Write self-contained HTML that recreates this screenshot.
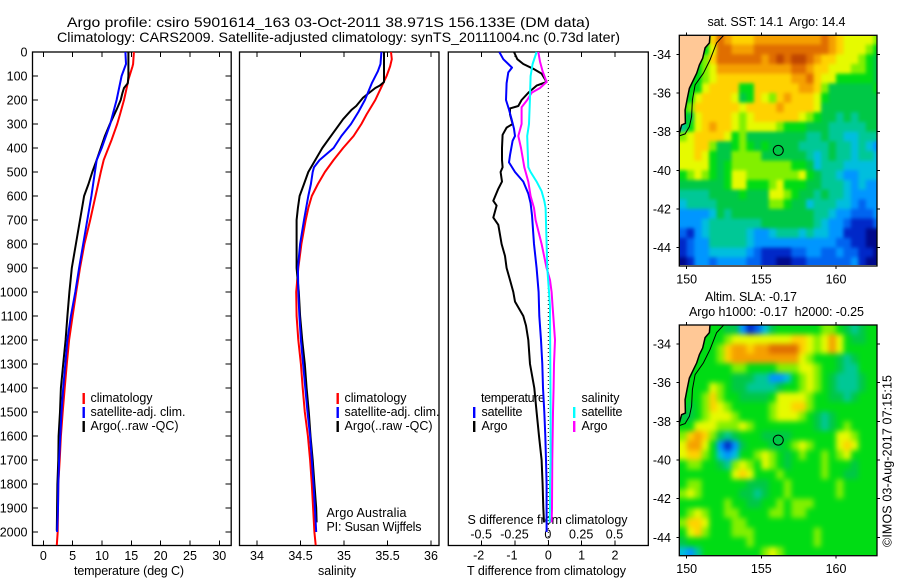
<!DOCTYPE html>
<html lang="en">
<head>
<meta charset="utf-8">
<title>Argo profile csiro 5901614_163</title>
<style>
html,body{margin:0;padding:0;background:#fff;}
svg{display:block;font-family:"Liberation Sans",sans-serif;font-size:12.5px;fill:#000;}
text{fill:#000;white-space:pre;}
</style>
</head>
<body>
<svg id="chart" width="900" height="580" viewBox="0 0 900 580" xmlns="http://www.w3.org/2000/svg">
<rect x="0" y="0" width="900" height="580" fill="#fff"/>
<text x="67" y="27" font-size="14" textLength="523" lengthAdjust="spacingAndGlyphs">Argo profile: csiro 5901614_163 03-Oct-2011 38.971S 156.133E (DM data)</text>
<text x="57" y="42" font-size="14" textLength="563" lengthAdjust="spacingAndGlyphs">Climatology: CARS2009. Satellite-adjusted climatology: synTS_20111004.nc (0.73d later)</text>
<text x="74" y="575" textLength="110">temperature (deg C)</text>
<text x="318" y="575" textLength="38">salinity</text>
<text x="467" y="575" textLength="159">T difference from climatology</text>
<text x="467.5" y="524" textLength="160">S difference from climatology</text>
<text x="90.5" y="402" textLength="62">climatology</text>
<text x="90.5" y="416" textLength="95">satellite-adj. clim.</text>
<text x="90.5" y="430" textLength="88">Argo(..raw -QC)</text>
<text x="344.5" y="402" textLength="62">climatology</text>
<text x="344.5" y="416" textLength="95">satellite-adj. clim.</text>
<text x="344.5" y="430" textLength="88">Argo(..raw -QC)</text>
<text x="326.5" y="517" textLength="80">Argo Australia</text>
<text x="326.5" y="531" textLength="95">PI: Susan Wijffels</text>
<text x="481" y="402" textLength="64">temperature</text>
<text x="481.5" y="416" textLength="41">satellite</text>
<text x="481.5" y="430" textLength="26">Argo</text>
<text x="581.5" y="402" textLength="38">salinity</text>
<text x="581.5" y="416" textLength="41">satellite</text>
<text x="581.5" y="430" textLength="26">Argo</text>
<text x="707.5" y="26" textLength="138">sat. SST: 14.1  Argo: 14.4</text>
<text x="705" y="301" textLength="92">Altim. SLA: -0.17</text>
<text x="689" y="316" textLength="175">Argo h1000: -0.17  h2000: -0.25</text>
<text transform="translate(891.5,547) rotate(-90)" textLength="172">©IMOS 03-Aug-2017 07:15:15</text>
</svg>
<script>
/* ---------- depth / temperature profile data ---------- */
const tempClimDepth = [0,50,60,115,140,200,260,300,365,400,450,500,600,700,800,900,1000,1100,1200,1300,1400,1500,1600,1700,1800,1900,2000,2055];
const tempClimValues = [15.45,15.3,15.2,14.5,14.3,13.75,13.07,12.6,11.65,11.1,10.3,9.8,8.9,8,7,6.25,5.6,5,4.4,4,3.65,3.3,3,2.8,2.55,2.5,2.45,2.3];
const tempSatDepth = [0,50,100,200,300,400,450,500,600,700,800,900,1000,1100,1200,1300,1400,1500,1600,1700,1800,1900,2000];
const tempSatValues = [14,14.1,13.35,12.5,11.4,9.95,9.1,8.8,8.2,7.5,6.8,6.1,5.45,4.7,4.1,3.75,3.4,3.1,2.9,2.7,2.55,2.5,2.35];
const tempArgoDepth = [0,50,100,130,150,170,200,240,300,350,400,450,500,550,600,700,800,900,1000,1100,1200,1300,1400,1500,1600,1700,1800,1900,1995];
const tempArgoValues = [14.5,14.5,14.5,14.4,13.75,13.5,13.2,12.5,11.35,10.5,9.8,9.1,8.35,7.7,6.95,6.25,5.55,4.85,4.45,4.1,3.8,3.4,3,2.85,2.6,2.55,2.4,2.35,2.3];
/* ---------- salinity profile data ---------- */
const salClimDepth = [0,30,60,100,130,200,260,300,350,400,450,500,550,600,650,700,800,900,1000,1100,1200,1300,1400,1500,1600,1700,1800,1900,2000,2055];
const salClimValues = [35.54,35.55,35.53,35.49,35.45,35.36,35.26,35.2,35.11,34.99,34.88,34.78,34.7,34.63,34.59,34.56,34.51,34.475,34.45,34.455,34.475,34.505,34.525,34.55,34.585,34.61,34.63,34.645,34.66,34.675];
const salSatDepth = [0,50,80,130,200,250,300,350,400,450,480,500,550,600,700,800,900,1000,1100,1200,1300,1400,1500,1600,1700,1800,1900,2000];
const salSatValues = [35.43,35.42,35.39,35.32,35.24,35.165,35.08,34.97,34.88,34.72,34.655,34.64,34.62,34.59,34.54,34.495,34.47,34.475,34.487,34.505,34.53,34.555,34.58,34.61,34.63,34.65,34.665,34.68];
const salArgoDepth = [0,50,125,140,150,190,225,240,280,340,400,450,500,550,600,650,700,800,900,1000,1100,1200,1300,1400,1500,1600,1700,1800,1900,1960];
const salArgoValues = [35.46,35.46,35.46,35.41,35.36,35.22,35.14,35.09,34.99,34.87,34.75,34.67,34.59,34.54,34.49,34.47,34.455,34.455,34.455,34.48,34.495,34.52,34.55,34.57,34.595,34.615,34.64,34.66,34.68,34.685];
/* ---------- difference panel data ---------- */
const diffTSatDepth = [0,30,50,65,85,130,200,240,280,320,350,370,430,460,500,540,590,630,680,800,900,1000,1100,1200,1300,1400,1500,1600,1700,1800,1900,2000];
const diffTSatValues = [-1.47,-1.35,-1.2,-1.09,-1.2,-1.25,-1.27,-1.18,-1.1,-1.03,-1,-1.07,-1.15,-1.18,-1,-0.75,-0.6,-0.53,-0.49,-0.43,-0.35,-0.29,-0.27,-0.22,-0.18,-0.16,-0.12,-0.09,-0.07,-0.05,-0.05,-0.05];
const diffTArgoDepth = [0,30,50,70,90,125,140,170,200,225,235,260,300,315,345,400,450,480,500,540,570,620,640,690,720,800,850,900,950,1000,1040,1100,1140,1200,1300,1400,1500,1600,1700,1800,1900,1960];
const diffTArgoValues = [-1.03,-0.93,-0.75,-0.45,-0.2,-0.05,-0.35,-0.6,-0.8,-0.9,-1.15,-1.15,-1.07,-1.25,-1.37,-1.39,-1.39,-1.37,-1.43,-1.39,-1.5,-1.65,-1.55,-1.65,-1.5,-1.4,-1.3,-1.25,-1.15,-1.05,-1,-0.75,-0.67,-0.6,-0.55,-0.42,-0.35,-0.28,-0.2,-0.17,-0.15,-0.13];
const diffSSatDepth = [0,50,100,200,300,350,400,480,500,540,580,620,650,800,900,1000,1060,1100,1300,1500,1700,1800,1900,1960];
const diffSSatValues = [-0.0875,-0.118,-0.133,-0.138,-0.145,-0.158,-0.155,-0.15,-0.133,-0.0875,-0.05,-0.03,-0.02,-0.0125,-0.0075,0.005,0.0125,0.0125,0.015,0.0175,0.0175,0.0125,0.0125,0.01];
const diffSArgoDepth = [0,40,80,125,150,170,200,230,300,350,400,480,540,600,650,700,800,900,950,1000,1060,1100,1200,1300,1400,1500,1700,1900,1960];
const diffSArgoValues = [-0.075,-0.0625,-0.0425,-0.0125,-0.0625,-0.125,-0.158,-0.2,-0.2,-0.225,-0.205,-0.18,-0.15,-0.133,-0.1075,-0.095,-0.05,-0.0125,0.0125,0.025,0.0325,0.0375,0.05,0.0425,0.04,0.035,0.03,0.0275,0.025];
/* ---------- tick labels ---------- */
const depthTicks = [0,100,200,300,400,500,600,700,800,900,1000,1100,1200,1300,1400,1500,1600,1700,1800,1900,2000];
const tempTicks = [0,5,10,15,20,25,30];
const salTicks = [34,34.5,35,35.5,36];
const diffTTicks = [-2,-1,0,1,2];
const diffSTicks = [-0.5,-0.25,0,0.25,0.5];
const mapLonTicks = [150,155,160];
const mapLatTicks = [-34,-36,-38,-40,-42,-44];
/* ---------- float position and coast, in degrees ---------- */
const floatLon = 156.133;
const floatLat = -38.971;
const coastLon = [151.56,151.52,151.23,151.07,150.85,150.67,150.45,150.18,150.04,149.89,149.91,149.66,149.5];
const coastLat = [-33,-33.41,-33.67,-34.2,-34.55,-34.98,-35.33,-35.76,-36.28,-36.88,-37.57,-37.66,-38.12];
const isobathLon = [152.5,152,151.56,151.12,150.56,150.38,150.33,150.18,149.89,149.5];
const isobathLat = [-33,-33.41,-34.29,-34.98,-35.59,-36.36,-37.22,-37.74,-38.12,-38.22];
/* ---------- satellite SST grid (colour class, -1 = land), 0.5 degree ---------- */
const sstRows = [
[-1,-1,-1,-1,10,12,11,10,10,10,11,11,11,11,11,11,11,11,11,12,11,10,9,9,9,9,8],
[-1,-1,-1,-1,9,12,12,11,11,11,12,12,12,12,12,12,12,12,12,12,11,10,9,9,9,8,7],
[-1,-1,-1,8,10,12,12,12,12,12,12,11,12,13,12,13,13,12,11,10,10,9,9,9,8,7,6],
[-1,-1,-1,8,9,11,11,11,11,11,11,11,11,11,11,12,12,11,10,10,9,9,9,8,8,7,6],
[-1,-1,7,8,9,10,10,10,10,10,10,10,10,10,10,11,11,12,10,9,9,7,7,7,7,7,6],
[-1,-1,7,9,10,10,10,10,7,7,10,10,10,10,10,10,11,11,10,8,6,6,6,6,6,6,7],
[-1,7,9,10,10,10,10,9,6,7,10,9,8,10,11,10,10,10,9,7,6,6,6,6,6,6,6],
[-1,8,10,10,10,10,10,10,9,10,10,10,10,11,10,10,10,10,9,6,6,6,6,6,6,6,6],
[-1,6,9,10,10,10,10,9,8,9,10,10,10,10,10,10,9,8,7,6,6,5,6,5,6,6,6],
[5,7,9,10,11,10,10,9,8,9,9,9,9,8,7,7,7,6,6,6,5,5,5,5,5,6,6],
[8,9,10,10,10,10,9,7,8,6,6,6,6,6,6,6,6,5,5,6,5,5,4,4,5,5,5],
[9,9,10,10,8,6,6,7,8,7,6,7,6,6,6,6,5,5,5,5,6,5,5,4,5,4,3],
[9,9,10,9,7,6,6,8,8,8,8,6,6,6,6,6,6,5,4,5,6,5,5,4,5,5,4],
[9,9,9,9,7,6,7,8,8,8,8,8,8,8,8,7,7,6,4,5,5,5,4,4,4,4,4],
[7,8,9,8,7,6,7,9,9,8,8,8,8,8,8,8,9,7,6,5,5,4,3,3,4,4,4],
[6,6,6,6,6,6,7,9,9,7,7,7,8,9,7,7,7,6,6,5,5,5,4,3,4,3,3],
[5,5,5,5,6,6,6,6,7,6,6,6,9,9,8,7,6,6,5,6,5,5,4,3,3,3,3],
[4,5,5,5,5,6,6,6,6,6,6,6,8,8,7,6,6,4,5,5,5,4,4,3,2,3,3],
[3,3,3,3,4,6,5,6,6,6,6,6,6,6,6,6,6,6,5,5,4,3,3,2,2,2,3],
[3,3,3,4,5,5,5,5,5,5,5,6,6,6,6,6,6,6,5,4,3,3,2,1,1,1,2],
[2,1,3,4,5,5,5,5,5,4,3,3,4,5,5,5,4,5,4,4,3,3,1,1,1,0,0],
[1,2,3,3,5,5,5,5,5,4,3,3,3,3,3,3,3,3,3,3,3,2,2,1,1,0,0],
[1,2,3,3,4,4,4,4,4,3,2,1,1,1,1,2,2,3,3,2,2,3,2,2,1,1,0],
[0,1,3,3,2,3,3,3,3,2,2,1,1,0,0,1,1,2,2,2,2,2,2,3,1,0,0]
];
/* ---------- altimetry SLA grid (colour class, -1 = land), 0.5 degree ---------- */
const slaRows = [
[-1,-1,-1,-1,7,7,6,6,3,1,2,4,6,7,7,7,7,7,7,8,8,7,6,5,6,7,7],
[-1,-1,-1,-1,7,7,8,9,9,9,9,9,9,9,9,10,10,9,8,9,11,9,7,6,6,7,7],
[-1,-1,-1,7,7,8,10,11,11,10,11,11,12,12,12,12,10,9,8,9,11,9,7,7,7,7,7],
[-1,-1,7,7,7,8,10,11,11,11,11,11,11,11,11,11,9,8,7,7,7,6,5,6,7,7,7],
[-1,-1,7,7,7,7,7,8,8,7,7,7,7,8,8,8,9,9,8,7,7,6,5,5,7,7,7],
[-1,-1,7,7,7,7,7,6,6,6,5,5,3,3,4,7,8,9,8,7,6,5,5,5,6,7,7],
[-1,7,7,7,9,8,7,6,6,5,5,5,5,6,7,7,8,9,8,7,6,5,5,5,6,7,7],
[-1,7,7,8,10,8,7,7,6,6,6,6,7,9,9,9,9,8,7,7,6,6,5,6,7,7,7],
[-1,6,7,8,10,9,8,7,7,7,7,7,8,9,9,10,10,8,7,7,7,7,7,7,7,7,7],
[6,6,7,8,9,9,9,8,7,7,7,7,8,9,9,9,8,7,6,5,6,7,7,7,7,7,7],
[7,7,9,9,9,8,8,8,9,8,7,7,7,7,7,7,7,7,6,5,6,7,8,7,7,7,7],
[8,10,11,10,8,6,5,6,7,7,7,6,6,6,6,7,7,7,7,7,7,9,9,8,7,7,7],
[9,11,11,9,7,3,1,3,6,7,7,7,6,6,7,8,9,8,7,7,7,9,10,9,7,7,7],
[9,10,10,8,7,4,3,4,7,7,8,9,8,7,6,7,8,7,7,8,7,8,9,7,7,7,7],
[7,8,8,7,7,6,5,8,9,8,7,9,8,7,6,7,7,7,7,8,7,7,7,6,7,7,7],
[7,7,7,7,7,7,7,9,10,9,7,7,7,8,7,7,7,7,7,8,7,7,6,6,7,7,7],
[7,8,8,7,7,7,7,7,7,6,6,6,7,7,8,7,7,7,7,7,7,8,7,7,7,7,7],
[8,9,8,7,7,7,7,7,6,6,5,6,7,7,8,7,7,7,7,7,7,8,7,7,7,7,7],
[7,7,7,7,7,7,8,7,7,6,6,7,7,8,7,8,8,8,7,7,7,7,7,7,7,7,7],
[7,8,9,8,7,7,8,8,7,7,7,7,8,8,7,8,8,7,7,7,7,7,7,7,7,7,7],
[8,10,10,9,7,7,7,8,8,7,7,7,7,7,7,7,7,7,7,7,7,7,7,7,7,7,7],
[7,9,10,8,7,7,7,8,8,8,7,7,7,7,7,7,7,7,8,7,7,7,7,7,7,7,7],
[6,7,7,7,7,7,7,7,7,8,7,7,7,7,7,7,7,7,8,7,7,7,7,7,7,7,7],
[4,3,5,7,7,7,7,7,7,7,7,8,9,8,7,7,7,7,7,7,7,7,7,7,7,7,7]
];
const palette = ['#000a8c','#0028c8','#0064f0','#0096ff','#00bede','#00c896','#00c846','#00dc14','#82f000','#e6fa00','#ffd200','#f5a000','#e06e00','#c04600'];
const landColor = '#ffc896';

/* ---------- layout + axis functions ---------- */
const NS = 'http://www.w3.org/2000/svg';
const chart = document.getElementById('chart');
const yDepth = d => 52 + 0.24 * d;
const xTemp = t => 43.3 + t * 5.867;
const xSal = s => 257 + (s - 34) * 87;
const xDiffT = t => 548.3 + t * 33.33;
const xDiffS = s => 548.3 + s * 133.33;
const PLOT_TOP = 52, PLOT_BOTTOM = 545.5;

function node(tag, attrs, parent) {
  const el = document.createElementNS(NS, tag);
  for (const k in attrs) el.setAttribute(k, attrs[k]);
  (parent || chart).appendChild(el);
  return el;
}
function addLabel(str, x, y, anchor, name) {
  const el = node('text', {x: x, y: y, 'text-anchor': anchor});
  el.textContent = str;
  
  
  return el;
}
function addTick(x1, y1, x2, y2, name) {
  const el = node('line', {x1: x1, y1: y1, x2: x2, y2: y2, stroke: '#000', 'stroke-width': 1, 'shape-rendering': 'crispEdges'});
  
  
}
function addFrame(x, y, w, h, name) {
  const el = node('rect', {x: x, y: y, width: w, height: h, fill: 'none', stroke: '#000', 'stroke-width': 1.3});
  
  
}
function addProfile(depths, values, xFn, color, width, name) {
  const pts = depths.map((d, i) => xFn(values[i]).toFixed(1) + ',' + yDepth(d).toFixed(1)).join(' ');
  const el = node('polyline', {points: pts, fill: 'none', stroke: color, 'stroke-width': width, 'stroke-linejoin': 'round'});
  
  
}
function addLegendBar(x, y, color, name) {
  const el = node('rect', {x: x, y: y, width: 2.4, height: 11, fill: color});
  
  
}

/* ---------- panel 1: temperature ---------- */
addFrame(32.5, PLOT_TOP, 198.7, 493.5, 'temperature-plot-frame');
depthTicks.forEach(d => {
  addTick(32.5, yDepth(d), 38, yDepth(d), 'depth-tick-left');
  addTick(225.7, yDepth(d), 231.2, yDepth(d), 'depth-tick-right');
  addLabel(String(d), 27.5, yDepth(d) + 4.5, 'end', 'depth-tick-label');
});
tempTicks.forEach(t => {
  addTick(xTemp(t), PLOT_TOP, xTemp(t), PLOT_TOP + 5, 'temperature-tick-top');
  addTick(xTemp(t), PLOT_BOTTOM - 5, xTemp(t), PLOT_BOTTOM, 'temperature-tick-bottom');
  addLabel(String(t), xTemp(t), 560, 'middle', 'temperature-tick-label');
});
addProfile(tempClimDepth, tempClimValues, xTemp, '#ff0000', 2, 'temperature-climatology-line');
addProfile(tempArgoDepth, tempArgoValues, xTemp, '#000000', 2, 'temperature-argo-line');
addProfile(tempSatDepth, tempSatValues, xTemp, '#0000ff', 2, 'temperature-satellite-line');
addLegendBar(82.5, 393, '#ff0000', 'legend-t-climatology-swatch');
addLegendBar(82.5, 407, '#0000ff', 'legend-t-satellite-swatch');
addLegendBar(82.5, 421, '#000000', 'legend-t-argo-swatch');

/* ---------- panel 2: salinity ---------- */
addFrame(239.5, PLOT_TOP, 199.5, 493.5, 'salinity-plot-frame');
salTicks.forEach(s => {
  addTick(xSal(s), PLOT_TOP, xSal(s), PLOT_TOP + 5, 'salinity-tick-top');
  addTick(xSal(s), PLOT_BOTTOM - 5, xSal(s), PLOT_BOTTOM, 'salinity-tick-bottom');
  addLabel(String(s), xSal(s), 560, 'middle', 'salinity-tick-label');
});
addProfile(salClimDepth, salClimValues, xSal, '#ff0000', 2, 'salinity-climatology-line');
addProfile(salArgoDepth, salArgoValues, xSal, '#000000', 2, 'salinity-argo-line');
addProfile(salSatDepth, salSatValues, xSal, '#0000ff', 2, 'salinity-satellite-line');
addLegendBar(336.5, 393, '#ff0000', 'legend-s-climatology-swatch');
addLegendBar(336.5, 407, '#0000ff', 'legend-s-satellite-swatch');
addLegendBar(336.5, 421, '#000000', 'legend-s-argo-swatch');

/* ---------- panel 3: differences ---------- */
addFrame(448.3, PLOT_TOP, 200, 493.5, 'difference-plot-frame');
diffTTicks.forEach(t => {
  addTick(xDiffT(t), PLOT_TOP, xDiffT(t), PLOT_TOP + 5, 'difference-tick-top');
  addTick(xDiffT(t), PLOT_BOTTOM - 5, xDiffT(t), PLOT_BOTTOM, 'difference-tick-bottom');
  addLabel(String(t), xDiffT(t) - (t < 0 ? 3 : 0), 559.5, 'middle', 'temperature-difference-tick-label');
});
diffSTicks.forEach(s => {
  addLabel(String(s), xDiffS(s) - 0.5, 538.7, 'middle', 'salinity-difference-tick-label');
});
const zeroLine = node('line', {x1: xDiffT(0), y1: PLOT_TOP, x2: xDiffT(0), y2: PLOT_BOTTOM, stroke: '#000', 'stroke-width': 1, 'stroke-dasharray': '1 3'});


addProfile(diffTArgoDepth, diffTArgoValues, xDiffT, '#000000', 2, 'difference-t-argo-line');
addProfile(diffTSatDepth, diffTSatValues, xDiffT, '#0000ff', 2, 'difference-t-satellite-line');
addProfile(diffSArgoDepth, diffSArgoValues, xDiffS, '#ff00ff', 2, 'difference-s-argo-line');
addProfile(diffSSatDepth, diffSSatValues, xDiffS, '#00ffff', 2, 'difference-s-satellite-line');
addLegendBar(473, 407, '#0000ff', 'legend-diff-t-satellite-swatch');
addLegendBar(473, 421, '#000000', 'legend-diff-t-argo-swatch');
addLegendBar(573, 407, '#00ffff', 'legend-diff-s-satellite-swatch');
addLegendBar(573, 421, '#ff00ff', 'legend-diff-s-argo-swatch');

/* ---------- maps ---------- */
function drawMap(rows, top, bottomData, labelY, prefix, softness) {
  const left = 679.3, right = 877, bottom = top + 230.7;
  const xLon = lon => 686.7 + (lon - 150) * 14.93;
  const yLat = lat => top + 19 + (-34 - lat) * 19.33;
  const clipId = prefix + '-clip', blurId = prefix + '-soften';
  const defs = node('defs', {});
  const clip = node('clipPath', {id: clipId}, defs);
  node('rect', {x: left, y: top, width: right - left, height: bottomData - top}, clip);
  const blur = node('filter', {id: blurId, filterUnits: 'userSpaceOnUse', x: left - 30, y: top - 30, width: right - left + 60, height: bottom - top + 60, 'color-interpolation-filters': 'sRGB'}, defs);
  node('feGaussianBlur', {stdDeviation: softness}, blur);
  const group = node('g', {'clip-path': 'url(#' + clipId + ')'});
  
  
  const cells = node('g', {filter: 'url(#' + blurId + ')'}, group);
  rows.forEach((row, r) => {
    row.forEach((v, c) => {
      const lon = 149.5 + c * 0.5, lat = -33 - r * 0.5;
      const x0 = xLon(lon), y0 = yLat(lat);
      const padL = c === 0 ? 20 : 0, padR = c === row.length - 1 ? 20 : 0;
      const padT = r === 0 ? 20 : 0, padB = r === rows.length - 1 ? 20 : 0;
      const cell = node('rect', {
        x: (x0 - padL).toFixed(2), y: (y0 - padT).toFixed(2),
        width: (xLon(lon + 0.5) - x0 + 0.4 + padL + padR).toFixed(2),
        height: (yLat(lat - 0.5) - y0 + 0.4 + padT + padB).toFixed(2),
        fill: v < 0 ? palette[7] : palette[v]
      }, cells);
      
      
    });
  });
  const landPts = coastLon.map((lon, i) => xLon(lon).toFixed(1) + ',' + yLat(coastLat[i]).toFixed(1));
  const land = node('polygon', {points: xLon(149.5) + ',' + yLat(-33) + ' ' + landPts.join(' '), fill: landColor}, group);
  
  
  const coast = node('polyline', {points: landPts.join(' '), fill: 'none', stroke: '#000', 'stroke-width': 1.5}, group);
  
  
  const isoPts = isobathLon.map((lon, i) => xLon(lon).toFixed(1) + ',' + yLat(isobathLat[i]).toFixed(1)).join(' ');
  const iso = node('polyline', {points: isoPts, fill: 'none', stroke: '#000', 'stroke-width': 1}, group);
  
  
  const marker = node('circle', {cx: xLon(floatLon), cy: yLat(floatLat), r: 5, fill: 'none', stroke: '#000', 'stroke-width': 1});
  
  
  addFrame(left, top, right - left, bottom - top, prefix + '-map-frame');
  mapLonTicks.forEach(lon => {
    addTick(xLon(lon), top - 3, xLon(lon), top, prefix + '-lon-tick-top');
    addTick(xLon(lon), bottom, xLon(lon), bottom + 3, prefix + '-lon-tick-bottom');
    addLabel(String(lon), xLon(lon), labelY, 'middle', prefix + '-lon-label');
  });
  mapLatTicks.forEach(lat => {
    addTick(left - 3, yLat(lat), left, yLat(lat), prefix + '-lat-tick-left');
    addTick(right, yLat(lat), right + 3, yLat(lat), prefix + '-lat-tick-right');
    addLabel(String(lat), 671, yLat(lat) + 4.5, 'end', prefix + '-lat-label');
  });
}
drawMap(sstRows, 35.3, 265, 283.5, 'sst', 1.9);
drawMap(slaRows, 325, 555, 573, 'sla', 2.6);
</script>
</body>
</html>
